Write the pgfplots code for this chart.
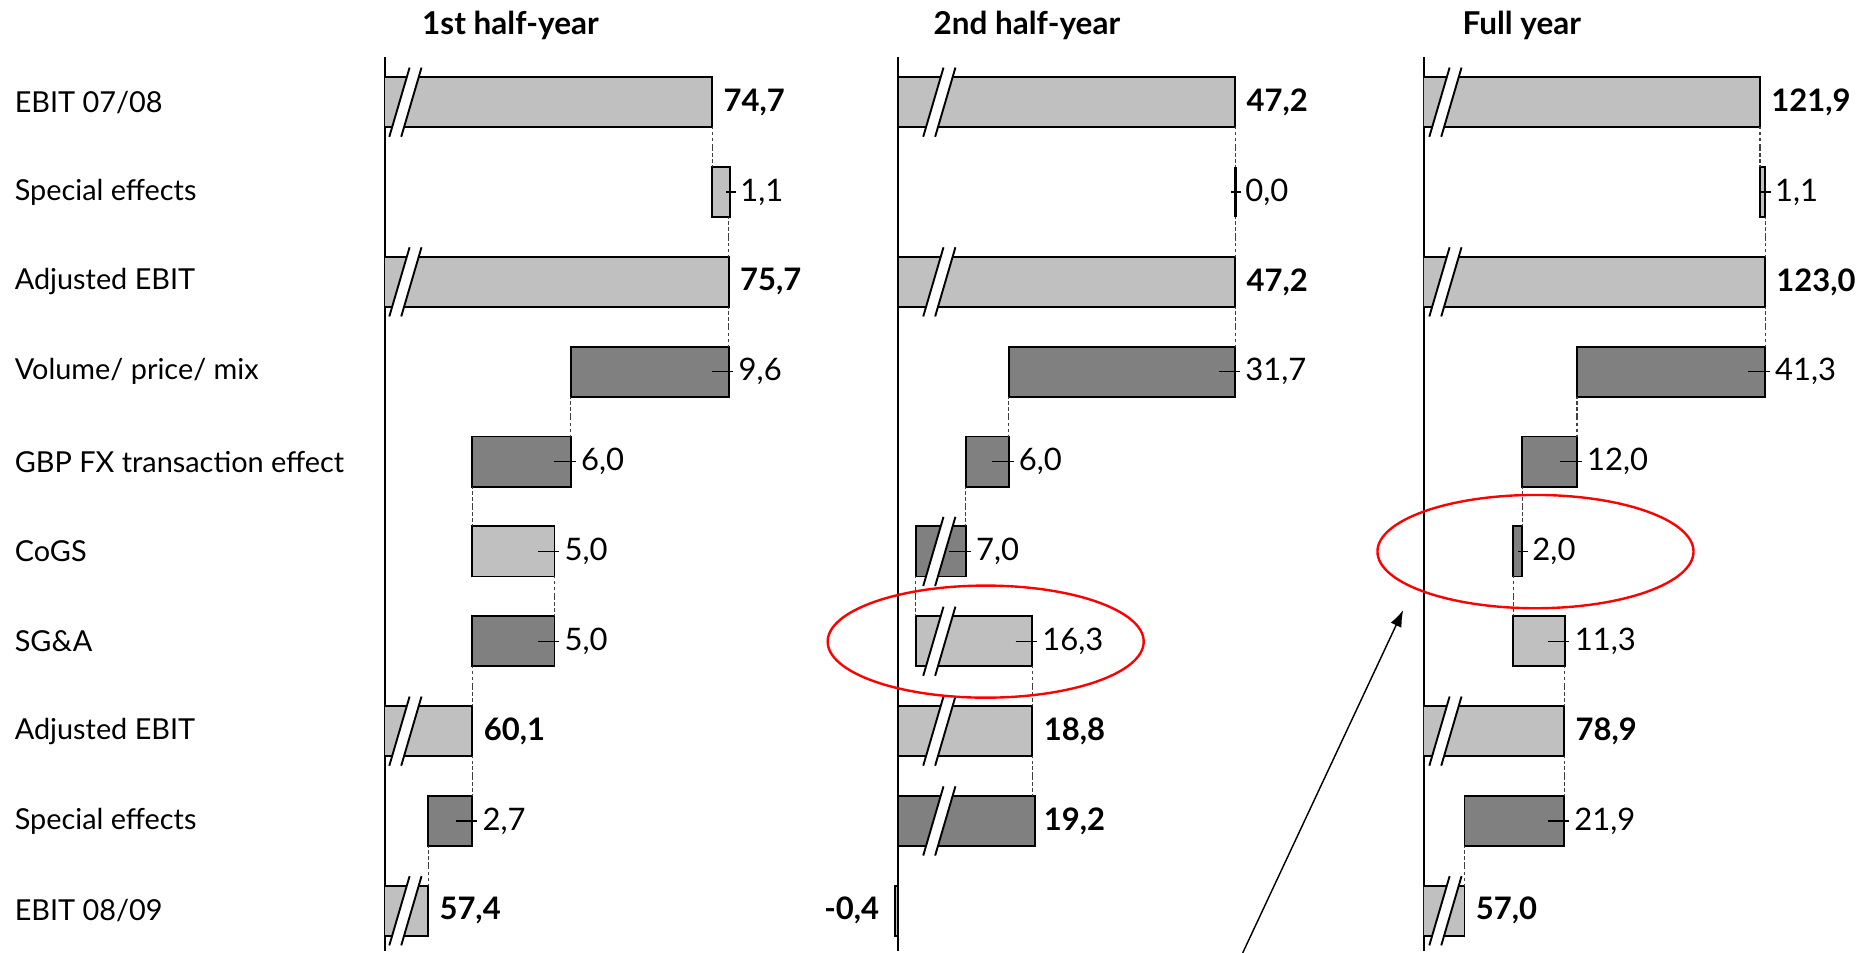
\documentclass[border=0pt]{standalone}
\usepackage{fontspec}
\setmainfont{Lato}
\usepackage{pgfplots}
\usepackage{pgfplotstable}
\pgfplotsset{compat=1.18}
\usetikzlibrary{arrows.meta}
\definecolor{lt}{HTML}{C0C0C0}
\definecolor{dk}{HTML}{808080}

% axis-break symbol (drawn as a plot mark at data points)
\pgfdeclareplotmark{brk}{%
  \pgfsetfillcolor{white}%
  \pgfpathmoveto{\pgfpoint{-6.75pt}{-14.5pt}}%
  \pgfpathlineto{\pgfpoint{1.75pt}{14.5pt}}%
  \pgfpathlineto{\pgfpoint{6.75pt}{14.5pt}}%
  \pgfpathlineto{\pgfpoint{-1.75pt}{-14.5pt}}%
  \pgfpathclose
  \pgfusepath{fill}%
  \pgfsetstrokecolor{black}%
  \pgfsetlinewidth{0.8pt}%
  \pgfpathmoveto{\pgfpoint{-6.75pt}{-14.5pt}}\pgfpathlineto{\pgfpoint{1.75pt}{14.5pt}}%
  \pgfpathmoveto{\pgfpoint{-1.75pt}{-14.5pt}}\pgfpathlineto{\pgfpoint{6.75pt}{14.5pt}}%
  \pgfusepath{stroke}%
}
\pgfdeclareplotmark{tk}{%
  \pgfsetlinewidth{0.5pt}\pgfsetstrokecolor{black}%
  \pgfpathmoveto{\pgfpoint{-7pt}{0pt}}\pgfpathlineto{\pgfpoint{2pt}{0pt}}\pgfusepath{stroke}}
\pgfdeclareplotmark{tks}{%
  \pgfsetlinewidth{0.5pt}\pgfsetstrokecolor{black}%
  \pgfpathmoveto{\pgfpoint{-1.7pt}{0pt}}\pgfpathlineto{\pgfpoint{2.3pt}{0pt}}\pgfusepath{stroke}}
% zero-length bar: a thick vertical stroke
\pgfdeclareplotmark{zbar}{%
  \pgfsetlinewidth{1.4pt}\pgfsetstrokecolor{black}%
  \pgfpathmoveto{\pgfpoint{0pt}{-10.5pt}}\pgfpathlineto{\pgfpoint{0pt}{10.5pt}}\pgfusepath{stroke}}
\pgfdeclareplotmark{nil}{}

% r = row, b = invisible base, d = dark (decrease), l = light (increase / total)
\pgfplotstableread{
r b d l
0 0 0 74.7
1 74.7 0 1.1
2 0 0 75.7
3 66.1 9.6 0
4 60.1 6.0 0
5 60.1 0 5.0
6 60.1 5.0 0
7 0 0 60.1
8 57.4 2.7 0
9 0 0 57.4
}\hA
\pgfplotstableread{
r b d l
0 0 0 47.2
1 47.2 0 0.0
2 0 0 47.2
3 15.5 31.7 0
4 9.5 6.0 0
5 2.5 7.0 0
6 2.5 0 16.3
7 0 0 18.8
8 -0.4 19.2 0
9 0 0 -0.4
}\hB
\pgfplotstableread{
r b d l
0 0 0 121.9
1 121.9 0 1.1
2 0 0 123.0
3 81.7 41.3 0
4 69.7 12.0 0
5 67.7 2.0 0
6 67.7 0 11.3
7 0 0 78.9
8 57.0 21.9 0
9 0 0 57.0
}\fy

\pgfplotsset{
 wf/.style={scale only axis, height=374.8pt, y dir=reverse, ymin=-0.5, ymax=9.45, anchor=north west},
 bars/.style={wf, xbar stacked, bar width=21pt, axis x line=none, axis y line*=left, ytick=\empty,
   major tick length=0pt, ytick style={draw=none}, axis line style={line width=0.8pt}},
 over/.style={wf, hide axis, clip=false},
 p1/.style={at={(161.5pt,-24pt)}, width=188.72pt, xmin=54.79, xmax=82.2},
 p2/.style={at={(376.5pt,-24pt)}, width=194.68pt, xmin=0, xmax=65},
 p3/.style={at={(597pt,-24pt)}, width=183.07pt, xmin=48.1, xmax=144},
 lbar/.style={fill=lt, draw=black, line width=0.8pt},
 dbar/.style={fill=dk, draw=black, line width=0.8pt},
 bfl/.style={only marks, mark=nil, nodes near coords, point meta=explicit symbolic,
   nodes near coords style={anchor=west, inner sep=0pt, xshift=4.6pt, font=\bfseries, text=black}},
 dl/.style={only marks, mark=tk, nodes near coords, point meta=explicit symbolic,
   nodes near coords style={anchor=west, inner sep=0pt, xshift=4pt, text=black}},
 dls/.style={dl, mark=tks},
 conn/.style={only marks, mark=nil, error bars/y dir=both, error bars/y fixed=0.2213,
   error bars/error mark=none,
   error bars/error bar style={draw=black!75, line width=0.45pt, dash pattern=on 1.5pt off 1pt}},
 brks/.style={only marks, mark=brk},
}

\begin{document}
\fontsize{13pt}{15.6pt}\selectfont
\begin{tikzpicture}
\path[use as bounding box] (0,0) rectangle (784pt,-399.5pt);

% ---------------- 1st half-year ----------------
\begin{axis}[bars, p1, ytick={0,...,9},
  yticklabels={EBIT 07/08,Special effects,Adjusted EBIT,Volume/ price/ mix,GBP FX transaction effect,CoGS,SG\&A,Adjusted EBIT,Special effects,EBIT 08/09},
  yticklabel style={anchor=west, inner sep=0pt, xshift=-155.5pt, text=black, font=\fontsize{12.1pt}{14pt}\selectfont}]
\addplot[draw=none, fill=none] table[x=b, y=r] {\hA};
\addplot[dbar] table[x=d, y=r] {\hA};
\addplot[lbar] table[x=l, y=r] {\hA};
\end{axis}
\begin{axis}[over, p1]
\addplot[conn] table {
x y
74.7 0.5
75.7 1.5
75.7 2.5
66.1 3.5
60.1 4.5
65.1 5.5
60.1 6.5
60.1 7.5
57.4 8.5
};
\addplot[brks] table {
x y
56.02 0
56.02 2
56.02 7
56.02 9
};
\addplot[bfl] table[meta=t] {
x y t
74.7 0 74,7
75.7 2 75,7
60.1 7 60,1
57.4 9 57,4
};
\addplot[dl] table[meta=t] {
x y t
75.7 3 9,6
66.1 4 6,0
65.1 5 5,0
65.1 6 5,0
60.1 8 2,7
};
\addplot[dls] table[meta=t] {
x y t
75.8 1 1,1
};
\end{axis}

% ---------------- 2nd half-year ----------------
\begin{axis}[bars, p2, clip=false]
\addplot[draw=none, fill=none] table[x=b, y=r] {\hB};
\addplot[dbar] table[x=d, y=r] {\hB};
\addplot[lbar] table[x=l, y=r] {\hB};
\end{axis}
\begin{axis}[over, p2]
\addplot[conn] table {
x y
47.2 0.5
47.2 1.5
47.2 2.5
15.5 3.5
9.5 4.5
2.5 5.5
18.8 6.5
18.8 7.5
};
\addplot[brks] table {
x y
5.78 0
5.78 2
5.78 5
5.78 6
5.78 7
5.78 8
};
% the 0,0 special effect: a bar of zero length
\addplot[only marks, mark=zbar] table {
x y
47.2 1
};
\addplot[bfl] table[meta=t] {
x y t
47.2 0 47,2
47.2 2 47,2
18.8 7 18,8
18.8 8 19,2
};
\addplot[bfl, nodes near coords style={anchor=east, xshift=-11.1pt}] table[meta=t] {
x y t
-0.4 9 -0,4
};
\addplot[dl] table[meta=t] {
x y t
47.2 3 31,7
15.5 4 6,0
9.5 5 7,0
18.8 6 16,3
};
\addplot[dls] table[meta=t] {
x y t
47.2 1 0,0
};
\end{axis}

% ---------------- Full year ----------------
\begin{axis}[bars, p3]
\addplot[draw=none, fill=none] table[x=b, y=r] {\fy};
\addplot[dbar] table[x=d, y=r] {\fy};
\addplot[lbar] table[x=l, y=r] {\fy};
\end{axis}
\begin{axis}[over, p3]
\addplot[conn] table {
x y
121.9 0.5
123.0 1.5
123.0 2.5
81.7 3.5
69.7 4.5
67.7 5.5
78.9 6.5
78.9 7.5
57.0 8.5
};
\addplot[brks] table {
x y
52.81 0
52.81 2
52.81 7
52.81 9
};
\addplot[bfl] table[meta=t] {
x y t
121.9 0 121,9
123.0 2 123,0
78.9 7 78,9
57.0 9 57,0
};
\addplot[dl] table[meta=t] {
x y t
123.0 3 41,3
81.7 4 12,0
79.0 6 11,3
78.9 8 21,9
};
\addplot[dls] table[meta=t] {
x y t
123.0 1 1,1
69.7 5 2,0
};
\end{axis}

% titles
\node[font=\fontsize{13.2pt}{16pt}\selectfont\bfseries] at (214pt,-10.5pt) {1st half-year};
\node[font=\fontsize{13.2pt}{16pt}\selectfont\bfseries] at (430.5pt,-10.5pt) {2nd half-year};
\node[font=\fontsize{13.2pt}{16pt}\selectfont\bfseries] at (638pt,-10.5pt) {Full year};

% annotations
\draw[red, line width=1pt] (413.25pt,-269pt) ellipse [x radius=66.25pt, y radius=23.5pt];
\draw[red, line width=1pt] (643.75pt,-231.25pt) ellipse [x radius=66.25pt, y radius=23.75pt];
\draw[line width=0.6pt, -{Latex[length=7pt,width=5pt]}] (521pt,-399.5pt) -- (588.3pt,-255.75pt);
\end{tikzpicture}
\end{document}
